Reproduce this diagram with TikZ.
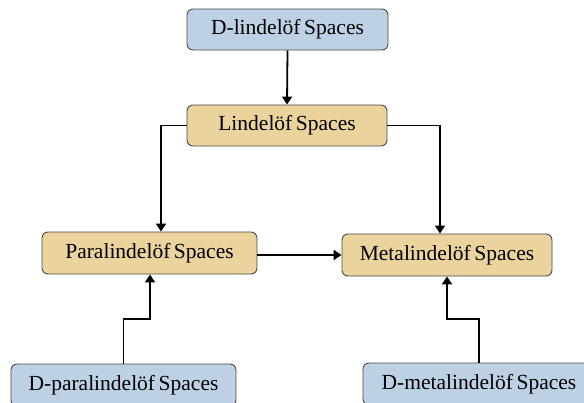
\documentclass[tikz,border=0pt]{standalone}
\usepackage{fontspec}
\setmainfont{Liberation Serif}
\usetikzlibrary{arrows.meta}
\definecolor{boxblue}{HTML}{BED1E4}
\definecolor{boxtan}{HTML}{EAD39D}
\definecolor{boxline}{HTML}{4A4A4A}
\begin{document}
\begin{tikzpicture}[x=1pt,y=-1pt,
  box/.style={draw=boxline, line width=0.9pt, rounded corners=6pt, inner sep=0pt,
    font=\fontsize{21.5}{24}\selectfont, text=black},
  bluebox/.style={box, fill=boxblue},
  tanbox/.style={box, fill=boxtan},
  conn/.style={line width=1.8pt, -{Triangle[width=10pt,length=8pt]}}]
\useasboundingbox (0,0) rectangle (584,402);
\node[bluebox, minimum width=201pt, minimum height=41pt] (dlin) at (287.5,29.5) {D-lindelöf\,Spaces};
\node[tanbox, minimum width=200pt, minimum height=41pt] (lin) at (287,125.5) {Lindelöf\,Spaces};
\node[tanbox, minimum width=215pt, minimum height=42pt] (para) at (149.5,253) {Paralindelöf\,Spaces};
\node[tanbox, minimum width=210pt, minimum height=42pt] (meta) at (447,255) {Metalindelöf\,Spaces};
\node[bluebox, minimum width=225pt, minimum height=42pt] (dpara) at (123.5,385) {D-paralindelöf\,Spaces};
\node[bluebox, minimum width=232pt, minimum height=42pt] (dmeta) at (479,384) {D-metalindelöf\,Spaces};
\coordinate (c1) at (161,125.5);
\coordinate (c2) at (440,125.5);
\coordinate (c3) at (123.5,319);
\coordinate (c4) at (150,319);
\coordinate (c5) at (479,319);
\coordinate (c6) at (447,319);
\draw[conn] (dlin.south) -- (lin.north);
\draw[conn] (lin.west) -- (c1) -- (c1 |- para.north);
\draw[conn] (lin.east) -- (c2) -- (c2 |- meta.north);
\draw[conn] (para.east |- meta.west) -- (meta.west);
\draw[conn] (dpara.north) -- (c3) -- (c4) -- (c4 |- para.south);
\draw[conn] (dmeta.north) -- (c5) -- (c6) -- (c6 |- meta.south);
\end{tikzpicture}
\end{document}
